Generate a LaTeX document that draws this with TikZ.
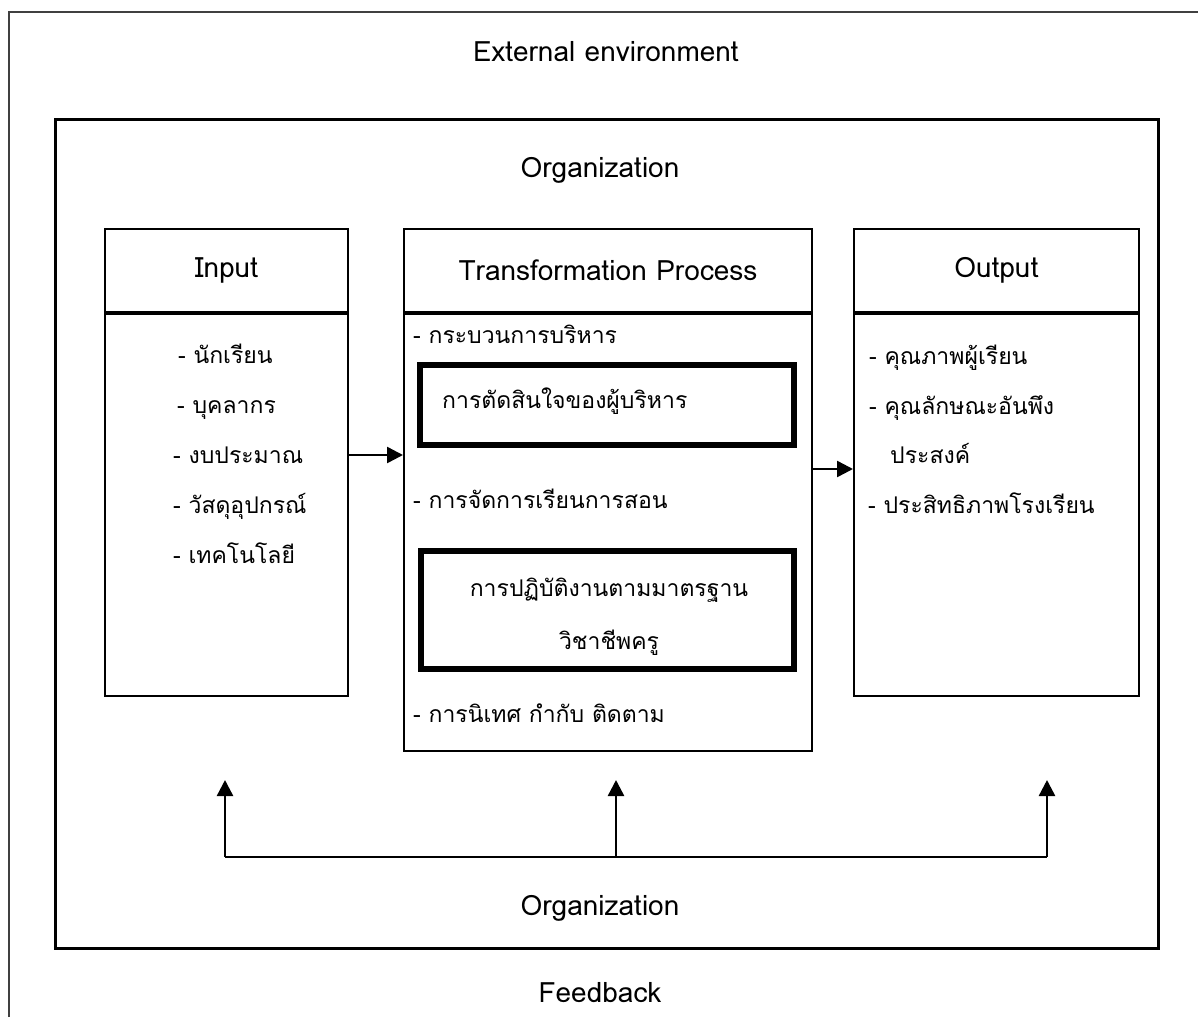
\documentclass[tikz,border=0pt]{standalone}
\usepackage{fontspec}
\setmainfont[Script=Thai]{Loma}
\usetikzlibrary{arrows.meta,positioning}

\tikzset{
    panel/.style={draw, line width=2pt, inner sep=0pt},
    keybox/.style={draw, line width=6pt, inner sep=0pt, align=center},
    heading/.style={font=\fontsize{28}{32}\selectfont},
    item/.style={font=\fontsize{23}{28}\selectfont, anchor=west, inner sep=0pt,
        text height=18pt, text depth=6pt},
    flow/.style={line width=2.5pt, -{Triangle[length=16pt,width=16pt]}}
}

\begin{document}
\begin{tikzpicture}[x=1pt, y=-1pt]

    \useasboundingbox (0,0) rectangle (1198,1017);

    % ==========================================
    % 1. AMBIENTE EXTERNO E ORGANIZACAO
    % ==========================================
    \draw[line width=2pt, black!75] (9,1017) -- (9,12) -- (1198,12); % moldura cortada
    \node[heading] (ext) at (606,52) {External environment};
    \draw[line width=3pt] (55,119) rectangle (1158,948); % caixa da organizacao
    \node[heading] (orgtop) at (600,170) {Organization};
    \node[heading] (orgbot) at (600,908) {Organization};
    \node[heading] (fback) at (600,993) {Feedback};

    % ==========================================
    % 2. INPUT (Esquerda)
    % ==========================================
    \node[panel, minimum width=243, minimum height=83, anchor=north west,
        heading] (inhead) at (104,228) {Input};
    \node[panel, minimum width=243, minimum height=382, anchor=north]
        (inbody) at (inhead.south) {};
    \foreach \txt/\xpos [count=\i] in {- นักเรียน/178, - บุคลากร/177, - งบประมาณ/173,
        - วัสดุอุปกรณ์/173, - เทคโนโลยี/173}
        \node[item] (in\i) at (\xpos,307+50*\i) {\txt};

    % ==========================================
    % 3. TRANSFORMATION PROCESS (Centro)
    % ==========================================
    \node[panel, minimum width=408, minimum height=83, anchor=north west,
        heading] (trhead) at (403,228) {Transformation Process};
    \node[panel, minimum width=408, minimum height=437, anchor=north]
        (trbody) at (trhead.south) {};
    \node[item] (tr1) at (413,337) {- กระบวนการบริหาร};
    \node[keybox, minimum width=374, minimum height=80]
        (decide) at (607,405) {};
    \node[item] (tr2) at (442,402) {การตัดสินใจของผู้บริหาร};
    \node[item] (tr3) at (413,502) {- การจัดการเรียนการสอน};
    \node[keybox, minimum width=373, minimum height=118]
        (standard) at (607.5,610) {};
    \node[item, anchor=center] (tr4) at (609,590) {การปฏิบัติงานตามมาตรฐาน};
    \node[item, anchor=center] (tr5) at (609,643) {วิชาชีพครู};
    \node[item] (tr6) at (413,716) {- การนิเทศ กำกับ ติดตาม};

    % ==========================================
    % 4. OUTPUT (Direita)
    % ==========================================
    \node[panel, minimum width=285, minimum height=83, anchor=north west,
        heading] (outhead) at (853,228) {Output};
    \node[panel, minimum width=285, minimum height=382, anchor=north]
        (outbody) at (outhead.south) {};
    \node[item] (out1) at (869,358) {- คุณภาพผู้เรียน};
    \node[item] (out2) at (869,408) {- คุณลักษณะอันพึง};
    \node[item] (out3) at (890,457) {ประสงค์};
    \node[item] (out4) at (868,507) {- ประสิทธิภาพโรงเรียน};

    % ==========================================
    % 5. SETAS E RETROALIMENTACAO
    % ==========================================
    \draw[flow] (inbody.east |- 0,455) -- (trbody.west |- 0,455);
    \draw[flow] (trbody.east |- 0,469) -- (outbody.west |- 0,469);

    \coordinate (fbleft) at (225,857);
    \coordinate (fbmid) at (616,857);
    \coordinate (fbright) at (1047,857);
    \draw[line width=2.5pt] (fbleft) -- (fbright); % linha de retorno
    \draw[flow] (fbleft) -- ++(0,-77);
    \draw[flow] (fbmid) -- ++(0,-77);
    \draw[flow] (fbright) -- ++(0,-77);

\end{tikzpicture}
\end{document}
